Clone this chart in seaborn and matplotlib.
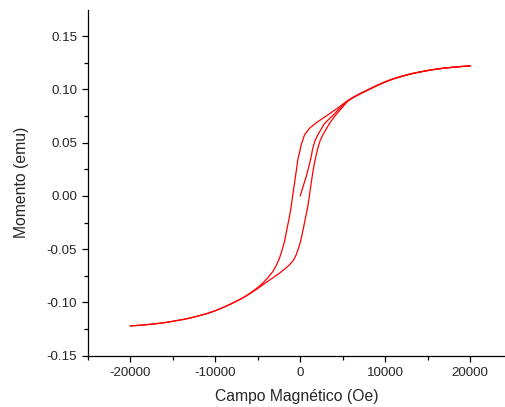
import pandas as pd
import seaborn as sns
import matplotlib.pyplot as plt
from matplotlib.ticker import MultipleLocator

# curva virgem (0 -> 20000)
campo_virgem = [0, 350, 706, 1094, 1294, 1482, 1750, 2070, 2859, 4035, 4800, 5600, 6300, 7000,
                8000, 9000, 10000, 11000, 12000, 13000, 14000, 15000, 16000, 17000, 18000, 19000,
                20000]
mom_virgem = [0.0, 0.009, 0.018, 0.030, 0.037, 0.0447, 0.052, 0.0572, 0.0680, 0.0770, 0.0835,
              0.0893, 0.0927, 0.0957, 0.0996, 0.1035, 0.1070, 0.1100, 0.1124, 0.1145, 0.1162,
              0.1177, 0.1190, 0.1200, 0.1208, 0.1215, 0.122]

# ramo descendente (20000 -> -20000)
campo_desc = [20000, 19000, 18000, 17000, 16000, 15000, 14000, 13000, 12000, 11000, 10000, 9000,
              8000, 7000, 6300, 5600, 4424, 3247, 2070, 1094, 506, 306, 118, -100, -282, -450,
              -671, -870, -1059, -1300, -1576, -1847, -2100, -2435, -2800, -3224, -3800, -4400,
              -5000, -5577, -6300, -7000, -8000, -9000, -10000, -11000, -12000, -13000, -14000,
              -15000, -16000, -17000, -18000, -19000, -20000]
mom_desc = [0.122, 0.1215, 0.1208, 0.1200, 0.1190, 0.1177, 0.1162, 0.1145, 0.1124, 0.1100, 0.1070,
            0.1035, 0.0996, 0.0957, 0.0927, 0.0895, 0.0825, 0.0760, 0.0697, 0.0635, 0.0572, 0.0525,
            0.0478, 0.0400, 0.0338, 0.0240, 0.0119, 0.0010, -0.0100, -0.0210, -0.0319, -0.0429,
            -0.0500, -0.0585, -0.0650, -0.0710, -0.0768, -0.0819, -0.0860, -0.0895, -0.0935,
            -0.0968, -0.1008, -0.1045, -0.1078, -0.1105, -0.1127, -0.1147, -0.1163, -0.1177,
            -0.1190, -0.1200, -0.1208, -0.1215, -0.122]

# ramo ascendente (-20000 -> 20000)
campo_asc = [-20000, -19000, -18000, -17000, -16000, -15000, -14000, -13000, -12000, -11000,
             -10000, -9000, -8000, -7000, -6300, -5577, -4800, -4000, -3200, -2435, -1800, -1259,
             -800, -471, -200, 35, 200, 388, 640, 894, 1100, 1294, 1500, 1682, 2070, 2350, 2659,
             3447, 4035, 4624, 5600, 6300, 7000, 8000, 9000, 10000, 11000, 12000, 13000, 14000,
             15000, 16000, 17000, 18000, 19000, 20000]
mom_asc = [-0.122, -0.1215, -0.1208, -0.1200, -0.1190, -0.1177, -0.1163, -0.1147, -0.1127, -0.1105,
           -0.1078, -0.1045, -0.1008, -0.0968, -0.0937, -0.0900, -0.0858, -0.0812, -0.0768,
           -0.0725, -0.0685, -0.0647, -0.0605, -0.0553, -0.0490, -0.0429, -0.0370, -0.0300,
           -0.0200, -0.0100, 0.0010, 0.0119, 0.0230, 0.0310, 0.0447, 0.0520, 0.0572, 0.0680,
           0.0745, 0.0800, 0.0890, 0.0927, 0.0957, 0.0996, 0.1035, 0.1070, 0.1100, 0.1124,
           0.1145, 0.1162, 0.1177, 0.1190, 0.1200, 0.1208, 0.1215, 0.122]

df = pd.concat([
    pd.DataFrame({'campo': campo_virgem, 'momento': mom_virgem, 'ramo': 'virgem'}),
    pd.DataFrame({'campo': campo_desc, 'momento': mom_desc, 'ramo': 'desc'}),
    pd.DataFrame({'campo': campo_asc, 'momento': mom_asc, 'ramo': 'asc'}),
])

sns.set_style('ticks')
plt.rcParams['font.family'] = ['Liberation Sans', 'DejaVu Sans']

fig = plt.figure(figsize=(5.05, 4.07), dpi=100)
ax = fig.add_axes([0.1737, 0.126, 0.8263, 0.8494])

sns.lineplot(data=df, x='campo', y='momento', units='ramo', estimator=None, sort=False,
             color='red', linewidth=0.9, ax=ax)

ax.set_xlim(-25000, 24100)
ax.set_ylim(-0.15, 0.1745)
ax.xaxis.set_minor_locator(MultipleLocator(5000))
ax.yaxis.set_minor_locator(MultipleLocator(0.025))
ax.set_yticks([-0.15, -0.10, -0.05, 0.0, 0.05, 0.10, 0.15])
ax.set_yticklabels(['-0.15', '-0.10', '-0.05', '0.00', '0.05', '0.10', '0.15'])
ax.set_xticks([-20000, -10000, 0, 10000, 20000])
ax.set_xticklabels(['-20000', '-10000', '0', '10000', '20000'])

ax.tick_params(axis='both', which='major', length=4.5, width=0.9, labelsize=9.6, color='black')
ax.tick_params(axis='both', which='minor', length=2.7, width=0.9, color='black')
ax.tick_params(axis='x', pad=3.5)
ax.tick_params(axis='y', pad=3)
for s in ['left', 'bottom']:
    ax.spines[s].set_linewidth(0.9)
    ax.spines[s].set_color('black')
sns.despine(ax=ax)

ax.set_xlabel('Campo Magnético (Oe)', fontsize=11.3, labelpad=7)
ax.set_ylabel('Momento (emu)', fontsize=11.3, labelpad=13)

fig.savefig('out.png', dpi=100)
